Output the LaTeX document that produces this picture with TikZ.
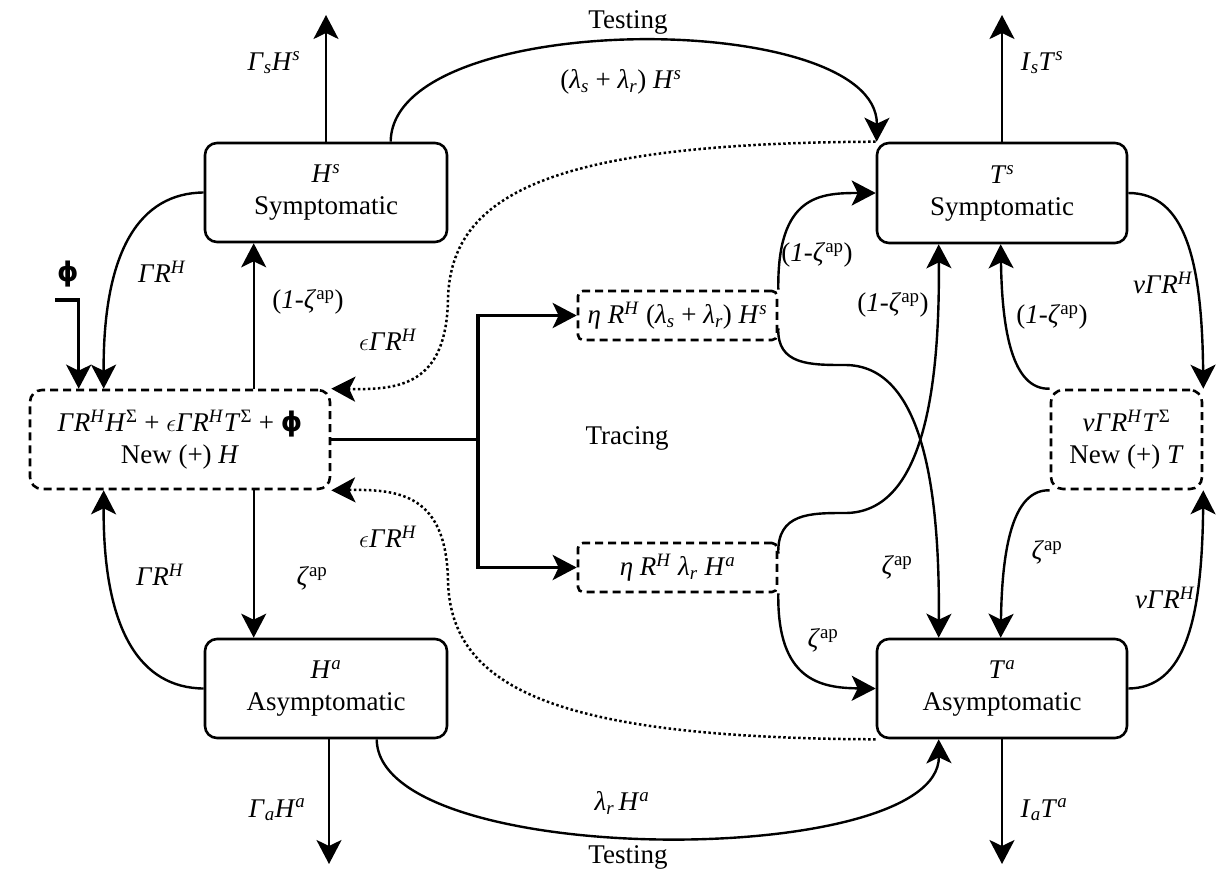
\documentclass[tikz,border=0pt]{standalone}
\usepackage{fontspec}
\setmainfont{Liberation Serif}
\newfontfamily\dvsans{DejaVu Sans}
\usetikzlibrary{arrows.meta,calc}
\newcommand\ii[1]{\textit{#1}}
\newcommand\sps[1]{\textsuperscript{#1}}
\newcommand\sbs[1]{\textsubscript{#1}}
\newcommand\zap{\ii{ζ}\sps{ap}}
\newcommand\omz{(\ii{1}-\zap)}
\newcommand\GRH{\ii{Γ}\ii{R}\sps{\ii{H}}}
\newcommand\bphi{{\dvsans\bfseries ϕ}}
\newcommand\myeps{$\epsilon$}
\begin{document}
\begin{tikzpicture}[x=1pt,y=-1pt,
  every node/.style={font=\fontsize{27}{32}\selectfont},
  box/.style={draw,line width=2.6pt,rounded corners=12pt,inner sep=0pt,align=center},
  dbox/.style={box,dash pattern=on 8pt off 5pt},
  tbox/.style={box,rounded corners=5pt,dash pattern=on 8pt off 5pt},
  arr/.style={line width=2.4pt,-{Stealth[length=24pt,width=25pt,inset=6pt]}},
  tarr/.style={line width=3.6pt,-{Stealth[length=24pt,width=25pt,inset=6pt]}},
  dotarr/.style={line width=2.5pt,dash pattern=on 2.5pt off 2.5pt,-{Stealth[length=24pt,width=25pt,inset=6pt]}}]
\path[fill=white] (0,0) rectangle (1231,873);
% boxes
\node[box,minimum width=242pt,minimum height=99pt] (Hs) at (326,192.5) {\ii{H}\sps{\ii{s}}\\Symptomatic};
\node[box,minimum width=242pt,minimum height=99pt] (Ha) at (326,688.5) {\ii{H}\sps{\ii{a}}\\Asymptomatic};
\node[box,minimum width=250pt,minimum height=100pt] (Ts) at (1002,193) {\ii{T}\sps{\ii{s}}\\Symptomatic};
\node[box,minimum width=250pt,minimum height=99pt] (Ta) at (1002,688.5) {\ii{T}\sps{\ii{a}}\\Asymptomatic};
\node[dbox,minimum width=300pt,minimum height=99pt] (NewH) at (180,439.5) {\GRH\ii{H}\sps{Σ} + \myeps\GRH\ii{T}\sps{Σ} + \bphi\\New (+) \ii{H}};
\node[dbox,minimum width=151pt,minimum height=99pt] (NewT) at (1126.5,439.5) {\ii{ν}\GRH\ii{T}\sps{Σ}\\New (+) \ii{T}};
\node[tbox,minimum width=199pt,minimum height=49pt] (Tr1) at (677.5,315.5) {\ii{η} \ii{R}\sps{\ii{H}} (\ii{λ}\sbs{\ii{s}} + \ii{λ}\sbs{\ii{r}}) \ii{H}\sps{\ii{s}}};
\node[tbox,minimum width=199pt,minimum height=49pt] (Tr2) at (677.5,567.5) {\ii{η} \ii{R}\sps{\ii{H}} \ii{λ}\sbs{\ii{r}} \ii{H}\sps{\ii{a}}};
% outflows
\coordinate (HsTop) at (326,15);
\coordinate (HaBot) at (329,864);
\coordinate (TsTop) at (1002,15);
\coordinate (TaBot) at (1002,864);
\draw[arr] (Hs.north) -- (HsTop);
\draw[arr] ($(Ha.south)+(3,0)$) -- (HaBot);
\draw[arr] (Ts.north) -- (TsTop);
\draw[arr] (Ta.south) -- (TaBot);
% left side
\draw[arr] ($(NewH.north west)+(225,0)$) -- ($(Hs.south west)+(50,0)$);
\draw[arr] ($(NewH.south west)+(225,0)$) -- ($(Ha.north west)+(50,0)$);
\draw[arr] (Hs.west) .. controls (140,193) and (103,250) .. ($(NewH.north west)+(75,0)$);
\draw[arr] (Ha.west) .. controls (140,688) and (103,630) .. ($(NewH.south west)+(75,0)$);
\node (phi) at (68,274) {\bphi};
\coordinate (phiS) at (55,300);
\draw[arr,line width=3.2pt] (phiS) -| ($(NewH.north west)+(50,0)$);
% testing
\draw[arr] ($(Hs.north west)+(187,0)$) .. controls (392,8) and (878,8) .. ($(Ts.north west)+(1,0)$);
\draw[arr] ($(Ha.south west)+(173,0)$) .. controls (378,870) and (940,870) .. ($(Ta.south west)+(63,0)$);
% dotted
\draw[dotarr] (Ts.north west) .. controls (560,143) and (450,190) .. (448,300) .. controls (446,385) and (400,390) .. (NewH.north east);
\draw[dotarr] (Ta.south west) .. controls (560,738) and (450,690) .. (448,580) .. controls (446,495) and (400,489) .. (NewH.south east);
% tracing
\coordinate (br) at (478,439.5);
\draw[line width=3.6pt] (NewH.east) -- (br);
\draw[tarr] (br) |- (Tr1.west);
\draw[tarr] (br) |- (Tr2.west);
\draw[arr] (Tr1.north east) .. controls (777,195) and (820,193) .. (Ts.west);
\draw[arr] ($(Tr1.south east)+(0,-13)$) .. controls (777,365) and (810,365) .. (845,365) .. controls (920,365) and (940,480) .. ($(Ta.north west)+(63,0)$);
\draw[arr] ($(Tr2.north east)+(0,12)$) .. controls (777,513) and (810,513) .. (845,513) .. controls (920,513) and (940,400) .. ($(Ts.south west)+(63,0)$);
\draw[arr] (Tr2.south east) .. controls (777,680) and (820,688) .. (Ta.west);
% right side
\draw[arr] (Ts.east) .. controls (1185,193) and (1202,260) .. (NewT.north east);
\draw[arr] (NewT.north west) .. controls (1012,390) and (1002,330) .. ($(Ts.south west)+(125,0)$);
\draw[arr] (NewT.south west) .. controls (1012,489) and (1002,550) .. ($(Ta.north west)+(125,0)$);
\draw[arr] (Ta.east) .. controls (1185,688) and (1202,620) .. (NewT.south east);
% labels
\node (lHs) at (274,63) {\ii{Γ}\sbs{\ii{s}}\ii{H}\sps{\ii{s}}};
\node (lg1) at (162,272) {\GRH};
\node (l1) at (308,302) {\omz};
\node (le1) at (388,340) {\myeps\GRH};
\node (lg2) at (160,575) {\GRH};
\node (lz1) at (312,578) {\zap};
\node (le2) at (388,537) {\myeps\GRH};
\node (lHa) at (277,810) {\ii{Γ}\sbs{\ii{a}}\ii{H}\sps{\ii{a}}};
\node (test1) at (628,22) {Testing};
\node (lam1) at (621,82) {(\ii{λ}\sbs{\ii{s}} + \ii{λ}\sbs{\ii{r}}) \ii{H}\sps{\ii{s}}};
\node (trc) at (627,438) {Tracing};
\node (lam2) at (622,803) {\ii{λ}\sbs{\ii{r}}\,\ii{H}\sps{\ii{a}}};
\node (test2) at (628,857) {Testing};
\node (l2) at (817,255) {\omz};
\node (l3) at (893,305) {\omz};
\node (lz2) at (897,567) {\zap};
\node (lz3) at (823,640) {\zap};
\node (lTs) at (1042,63) {\ii{I}\sbs{\ii{s}}\ii{T}\sps{\ii{s}}};
\node (lv1) at (1163,283) {\ii{ν}\GRH};
\node (l4) at (1052,317) {\omz};
\node (lz4) at (1047,552) {\zap};
\node (lv2) at (1165,598) {\ii{ν}\GRH};
\node (lTa) at (1044,810) {\ii{I}\sbs{\ii{a}}\ii{T}\sps{\ii{a}}};
\end{tikzpicture}
\end{document}
